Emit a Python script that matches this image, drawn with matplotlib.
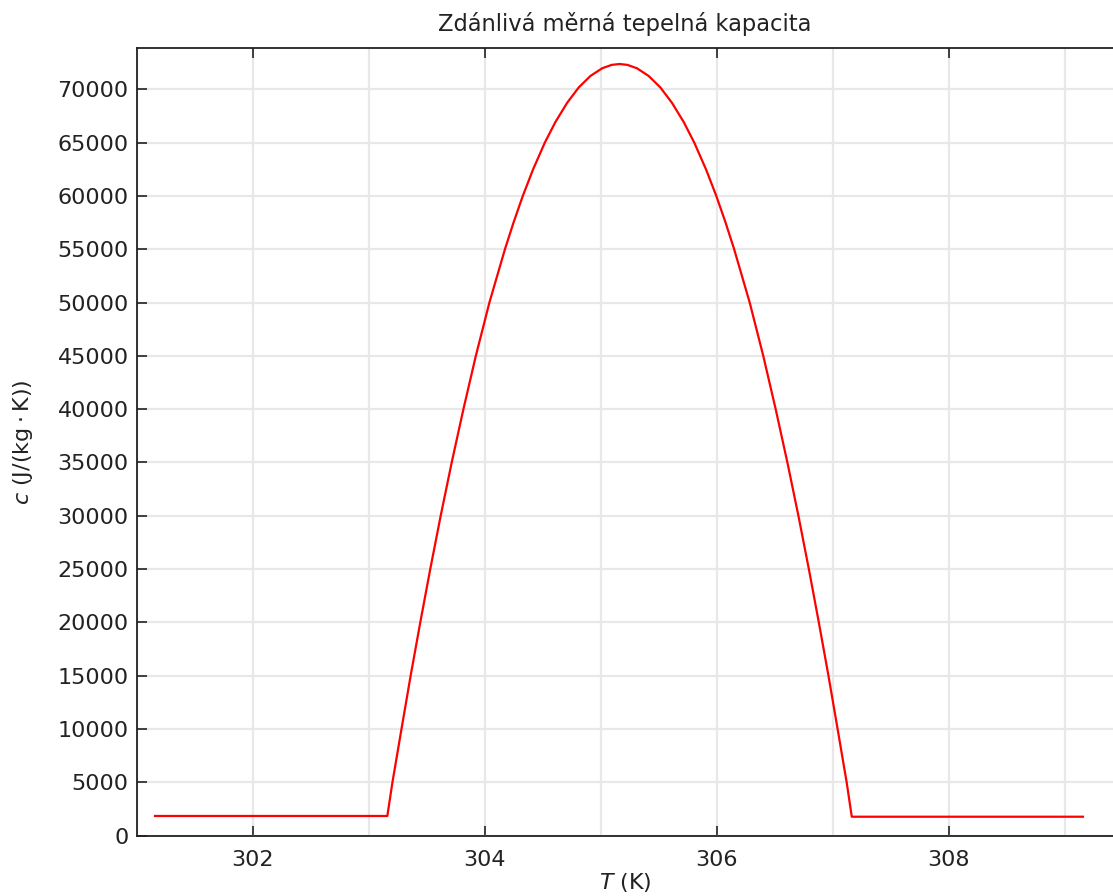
import matplotlib
matplotlib.use("Agg")
import matplotlib.pyplot as plt
from matplotlib.ticker import MultipleLocator

# Data
T_K = [301.155, 303.158, 303.202, 303.280, 303.359, 303.442, 303.528, 303.618,
       303.713, 303.814, 303.921, 304.038, 304.172, 304.246, 304.326, 304.415,
       304.516, 304.607, 304.708, 304.808, 304.909, 305.010, 305.093, 305.160,
       305.227, 305.310, 305.411, 305.512, 305.612, 305.713, 305.804, 305.905,
       305.994, 306.074, 306.148, 306.282, 306.399, 306.506, 306.607, 306.702,
       306.792, 306.878, 306.961, 307.040, 307.118, 307.162, 309.155]
c_vals = [1850, 1850, 5000, 10000, 15000, 20000, 25000, 30000,
          35000, 40000, 45000, 50000, 55000, 57500, 60000, 62500,
          65000, 66930, 68730, 70170, 71250, 71970, 72290, 72370,
          72290, 71970, 71250, 70170, 68730, 66930, 65000, 62500,
          60000, 57500, 55000, 50000, 45000, 40000, 35000, 30000,
          25000, 20000, 15000, 10000, 5000, 1780, 1780]

x_major_ticks = [302, 304, 306, 308]
y_ticks = list(range(0, 70001, 5000))

title = "Zdánlivá měrná tepelná kapacita"
xlabel = "$T$ (K)"
ylabel = "$c$ (J/(kg\u2009\u00b7\u2009K))"

plt.rcParams['font.family'] = ['DejaVu Sans']
plt.rcParams['mathtext.fontset'] = 'dejavusans'

fig = plt.figure(figsize=(11.13, 8.96), dpi=100)
ax = fig.add_axes([137 / 1113, 1 - 835.7 / 896, 1 - 137 / 1113, (835.7 - 47.7) / 896])

ax.plot(T_K, c_vals, color='#ff0000', linewidth=1.6, zorder=3,
        solid_joinstyle='round')

ax.set_xlim(301.0, 309.414)
ax.set_ylim(0, 73900)

ax.set_xticks(x_major_ticks)
ax.xaxis.set_minor_locator(MultipleLocator(1))
ax.set_yticks(y_ticks)
ax.set_yticklabels([str(v) for v in y_ticks])

ax.grid(True, which='both', color='#e8e8e8', linewidth=1.6, zorder=0)
ax.set_axisbelow(True)

ax.tick_params(axis='x', which='major', direction='in', length=7, width=1.2,
               top=True, bottom=True, labelsize=16, colors='#222222', pad=10)
ax.tick_params(axis='x', which='minor', length=0)
ax.tick_params(axis='y', which='major', direction='in', length=7, width=1.2,
               left=True, right=False, labelsize=16, colors='#222222', pad=6)

for side in ['left', 'bottom', 'top']:
    ax.spines[side].set_color('#222222')
    ax.spines[side].set_linewidth(1.3)
ax.spines['right'].set_visible(False)

ax.set_title(title, fontsize=16.3, color='#222222', pad=12)
ax.set_xlabel(xlabel, fontsize=16, color='#222222', labelpad=1)
ax.set_ylabel(ylabel, fontsize=16, color='#222222', labelpad=16)

fig.savefig("out.png", dpi=100)
